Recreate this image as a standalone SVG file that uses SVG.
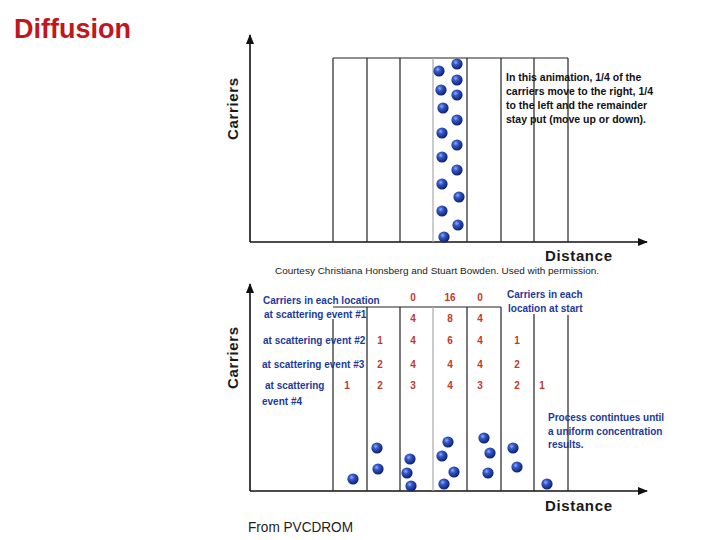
<svg xmlns="http://www.w3.org/2000/svg" width="720" height="540" viewBox="0 0 720 540">
<defs>
<radialGradient id="ball" cx="0.38" cy="0.35" r="0.65">
<stop offset="0" stop-color="#8fb0ff"/>
<stop offset="0.35" stop-color="#3458c8"/>
<stop offset="1" stop-color="#0e1f6e"/>
</radialGradient>
<marker id="arr" viewBox="0 0 10 8" refX="9" refY="4" markerWidth="10" markerHeight="8" markerUnits="userSpaceOnUse" orient="auto">
<path d="M0,0 L10,4 L0,8 z" fill="#111"/>
</marker>
<g id="b"><circle r="5.6" fill="url(#ball)"/></g>
</defs>
<style>
.ax{stroke:#111;stroke-width:1.6;fill:none}
.cell{stroke:#222;stroke-width:1.2;fill:none}
.mid{stroke:#aaa;stroke-width:1.2;fill:none}
.axl{font-family:"Liberation Sans",Arial,sans-serif;font-size:15px;font-weight:bold;fill:#1a1a1a}
.note{font-family:"Liberation Sans",Arial,sans-serif;font-size:10.5px;font-weight:bold;fill:#111}
.bl{font-family:"Liberation Sans",Arial,sans-serif;font-size:10px;font-weight:bold;fill:#1c3a9c}
.rd{font-family:"Liberation Sans",Arial,sans-serif;font-size:10px;font-weight:bold;fill:#c0392b;text-anchor:middle}
</style>
<rect width="720" height="540" fill="#fff"/>
<text x="14" y="38" font-family="Liberation Sans,Arial,sans-serif" font-size="27" font-weight="bold" fill="#c0161d" textLength="117" lengthAdjust="spacingAndGlyphs">Diffusion</text>

<g id="top-panel">
<g id="top-axes">
<line class="ax" x1="250" y1="242" x2="250" y2="35" marker-end="url(#arr)"/>
<line class="ax" x1="250" y1="242" x2="647" y2="242" marker-end="url(#arr)"/>
</g>
<g id="top-grid">
<line class="cell" x1="333" y1="58" x2="568" y2="58"/>
<line class="cell" x1="333" y1="58" x2="333" y2="242"/>
<line class="cell" x1="367" y1="58" x2="367" y2="242"/>
<line class="cell" x1="400" y1="58" x2="400" y2="242"/>
<line class="mid" x1="433" y1="58" x2="433" y2="242"/>
<line class="cell" x1="467" y1="58" x2="467" y2="242"/>
<line class="cell" x1="501" y1="58" x2="501" y2="242"/>
<line class="cell" x1="534" y1="58" x2="534" y2="242"/>
<line class="cell" x1="568" y1="58" x2="568" y2="242"/>
</g>
<g id="top-balls">
<use href="#b" x="439" y="71"/><use href="#b" x="457" y="64"/><use href="#b" x="457" y="80"/>
<use href="#b" x="441" y="90"/><use href="#b" x="457" y="95"/><use href="#b" x="443" y="108"/>
<use href="#b" x="457" y="120"/><use href="#b" x="442" y="133"/><use href="#b" x="457" y="145"/>
<use href="#b" x="442" y="157"/><use href="#b" x="457" y="170"/><use href="#b" x="442" y="184"/>
<use href="#b" x="459" y="197"/><use href="#b" x="442" y="211"/><use href="#b" x="458" y="225"/>
<use href="#b" x="444" y="237"/>
</g>
<g id="top-note">
<text class="note" x="506" y="81">In this animation, 1/4 of the</text>
<text class="note" x="506" y="95">carriers move to the right, 1/4</text>
<text class="note" x="506" y="109">to the left and the remainder</text>
<text class="note" x="506" y="123">stay put (move up or down).</text>
</g>
<text class="axl" transform="translate(238,109) rotate(-90)" text-anchor="middle" textLength="62">Carriers</text>
<text class="axl" x="545" y="261" textLength="67">Distance</text>
<text x="275" y="274" font-family="Liberation Sans,Arial,sans-serif" font-size="9.5" fill="#222" textLength="324" lengthAdjust="spacingAndGlyphs">Courtesy Christiana Honsberg and Stuart Bowden. Used with permission.</text>
</g>

<g id="bottom-panel">
<g id="bottom-axes">
<line class="ax" x1="250" y1="491" x2="250" y2="284" marker-end="url(#arr)"/>
<line class="ax" x1="250" y1="491" x2="647" y2="491" marker-end="url(#arr)"/>
</g>
<g id="bottom-grid">
<line class="cell" x1="333" y1="307" x2="501" y2="307"/>
<line class="cell" x1="333" y1="319" x2="333" y2="491"/>
<line class="cell" x1="367" y1="307" x2="367" y2="491"/>
<line class="cell" x1="400" y1="307" x2="400" y2="491"/>
<line class="mid" x1="433" y1="307" x2="433" y2="491"/>
<line class="cell" x1="467" y1="307" x2="467" y2="491"/>
<line class="cell" x1="501" y1="307" x2="501" y2="491"/>
<line class="cell" x1="534" y1="314" x2="534" y2="491"/>
<line class="cell" x1="568" y1="315" x2="568" y2="491"/>
</g>
<g id="bottom-labels">
<text class="bl" x="263" y="304">Carriers in each location</text>
<text class="bl" x="264" y="318">at scattering event #1</text>
<text class="bl" x="263" y="344">at scattering event #2</text>
<text class="bl" x="262" y="368">at scattering event #3</text>
<text class="bl" x="265" y="389">at scattering</text>
<text class="bl" x="262" y="405">event #4</text>
<text class="bl" x="507" y="298">Carriers in each</text>
<text class="bl" x="508" y="312">location at start</text>
<text class="bl" x="548" y="421">Process contintues until</text>
<text class="bl" x="548" y="435">a uniform concentration</text>
<text class="bl" x="548" y="448">results.</text>
</g>
<g id="counts">
<text class="rd" x="413" y="301">0</text><text class="rd" x="450" y="301">16</text><text class="rd" x="480" y="301">0</text>
<text class="rd" x="413" y="322">4</text><text class="rd" x="450" y="322">8</text><text class="rd" x="480" y="322">4</text>
<text class="rd" x="380" y="344">1</text><text class="rd" x="413" y="344">4</text><text class="rd" x="450" y="344">6</text><text class="rd" x="480" y="344">4</text><text class="rd" x="517" y="344">1</text>
<text class="rd" x="380" y="368">2</text><text class="rd" x="413" y="368">4</text><text class="rd" x="450" y="368">4</text><text class="rd" x="480" y="368">4</text><text class="rd" x="517" y="368">2</text>
<text class="rd" x="347" y="389">1</text><text class="rd" x="380" y="389">2</text><text class="rd" x="413" y="389">3</text><text class="rd" x="450" y="389">4</text><text class="rd" x="480" y="389">3</text><text class="rd" x="517" y="389">2</text><text class="rd" x="542" y="389">1</text>
</g>
<g id="bottom-balls">
<use href="#b" x="353" y="479"/>
<use href="#b" x="377" y="448"/><use href="#b" x="378" y="469"/>
<use href="#b" x="410" y="459"/><use href="#b" x="407" y="473"/><use href="#b" x="411" y="486"/>
<use href="#b" x="448" y="442"/><use href="#b" x="442" y="456"/><use href="#b" x="454" y="472"/><use href="#b" x="444" y="484"/>
<use href="#b" x="484" y="438"/><use href="#b" x="490" y="453"/><use href="#b" x="488" y="473"/>
<use href="#b" x="513" y="448"/><use href="#b" x="517" y="467"/>
<use href="#b" x="547" y="484"/>
</g>
<text class="axl" transform="translate(238,358) rotate(-90)" text-anchor="middle" textLength="62">Carriers</text>
<text class="axl" x="545" y="511" textLength="67">Distance</text>
</g>
<text x="248" y="532" font-family="Liberation Sans,Arial,sans-serif" font-size="14" fill="#222" textLength="105" lengthAdjust="spacingAndGlyphs">From PVCDROM</text>
</svg>
